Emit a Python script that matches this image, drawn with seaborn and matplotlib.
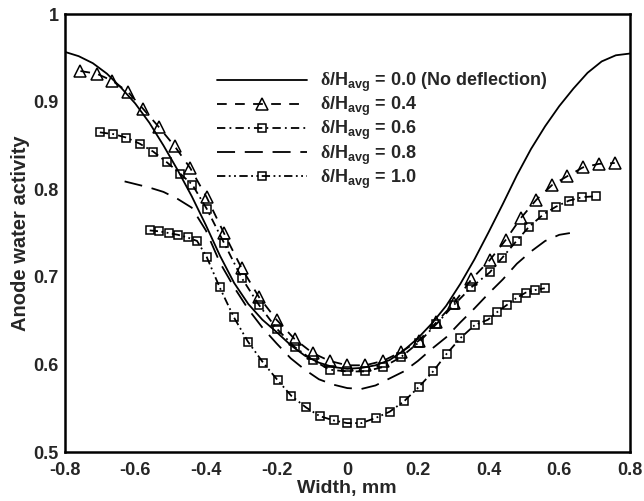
import matplotlib
matplotlib.use("Agg")
import matplotlib.pyplot as plt
import seaborn as sns
from matplotlib.ticker import MultipleLocator, FormatStrFormatter

# Anode water activity across the channel width for several deflection ratios
x_00 = [-0.80, -0.76, -0.72, -0.68, -0.64, -0.60, -0.56, -0.52, -0.48, -0.44,
        -0.40, -0.36, -0.32, -0.28, -0.24, -0.20, -0.16, -0.12, -0.08, -0.04,
        0.00, 0.04, 0.08, 0.12, 0.16, 0.20, 0.24, 0.28, 0.32, 0.36,
        0.40, 0.44, 0.48, 0.52, 0.56, 0.60, 0.64, 0.68, 0.72, 0.76, 0.80]
y_00 = [0.957, 0.952, 0.944, 0.932, 0.916, 0.898, 0.876, 0.850, 0.822, 0.792,
        0.759, 0.724, 0.693, 0.669, 0.651, 0.637, 0.622, 0.610, 0.602, 0.597,
        0.595, 0.596, 0.599, 0.605, 0.616, 0.630, 0.647, 0.667, 0.692, 0.720,
        0.751, 0.783, 0.816, 0.846, 0.872, 0.895, 0.915, 0.933, 0.946, 0.953, 0.955]

x_04 = [-0.755, -0.709, -0.665, -0.620, -0.578, -0.533, -0.488, -0.444, -0.398, -0.349,
        -0.299, -0.250, -0.200, -0.149, -0.098, -0.050, 0.000, 0.051, 0.101, 0.151,
        0.202, 0.252, 0.302, 0.351, 0.403, 0.448, 0.491, 0.535, 0.580, 0.623,
        0.667, 0.712, 0.757]
y_04 = [0.935, 0.932, 0.924, 0.911, 0.892, 0.871, 0.849, 0.824, 0.791, 0.750,
        0.710, 0.677, 0.651, 0.629, 0.613, 0.604, 0.599, 0.599, 0.604, 0.614,
        0.627, 0.648, 0.670, 0.697, 0.719, 0.742, 0.767, 0.788, 0.805, 0.815,
        0.825, 0.829, 0.830]

x_06 = [-0.700, -0.662, -0.625, -0.587, -0.549, -0.511, -0.473, -0.438, -0.398, -0.349,
        -0.299, -0.250, -0.200, -0.149, -0.098, -0.050, 0.000, 0.050, 0.101, 0.151,
        0.202, 0.252, 0.302, 0.351, 0.403, 0.439, 0.479, 0.514, 0.554, 0.590,
        0.627, 0.665, 0.703]
y_06 = [0.865, 0.863, 0.859, 0.852, 0.843, 0.831, 0.818, 0.805, 0.778, 0.739,
        0.699, 0.668, 0.641, 0.620, 0.605, 0.594, 0.592, 0.592, 0.597, 0.608,
        0.625, 0.646, 0.668, 0.688, 0.705, 0.722, 0.741, 0.757, 0.771, 0.780,
        0.787, 0.791, 0.792]

x_08 = [-0.63, -0.60, -0.56, -0.52, -0.48, -0.44, -0.40, -0.36, -0.32, -0.28,
        -0.24, -0.20, -0.16, -0.12, -0.08, -0.04, 0.00, 0.04, 0.08, 0.12,
        0.16, 0.20, 0.24, 0.28, 0.32, 0.36, 0.40, 0.44, 0.48, 0.52,
        0.56, 0.60, 0.63]
y_08 = [0.809, 0.806, 0.802, 0.797, 0.789, 0.779, 0.753, 0.716, 0.688, 0.663,
        0.642, 0.624, 0.607, 0.594, 0.583, 0.577, 0.573, 0.572, 0.576, 0.584,
        0.592, 0.604, 0.618, 0.631, 0.648, 0.664, 0.681, 0.697, 0.715, 0.729,
        0.741, 0.748, 0.750]

x_10 = [-0.559, -0.532, -0.505, -0.479, -0.452, -0.425, -0.398, -0.361, -0.321, -0.281,
        -0.238, -0.197, -0.158, -0.117, -0.078, -0.038, 0.000, 0.040, 0.081, 0.120,
        0.161, 0.202, 0.243, 0.281, 0.320, 0.361, 0.398, 0.425, 0.452, 0.479,
        0.505, 0.532, 0.559]
y_10 = [0.753, 0.752, 0.750, 0.748, 0.745, 0.741, 0.723, 0.688, 0.654, 0.626,
        0.602, 0.582, 0.564, 0.551, 0.541, 0.536, 0.533, 0.533, 0.539, 0.546,
        0.558, 0.574, 0.592, 0.612, 0.630, 0.645, 0.651, 0.660, 0.668, 0.676,
        0.682, 0.685, 0.687]

labels = [
    r"$\delta\mathrm{/H_{avg}}$ = 0.0 (No deflection)",
    r"$\delta\mathrm{/H_{avg}}$ = 0.4",
    r"$\delta\mathrm{/H_{avg}}$ = 0.6",
    r"$\delta\mathrm{/H_{avg}}$ = 0.8",
    r"$\delta\mathrm{/H_{avg}}$ = 1.0",
]

x_ticks = [-0.8, -0.6, -0.4, -0.2, 0.0, 0.2, 0.4, 0.6, 0.8]
y_ticks = [0.5, 0.6, 0.7, 0.8, 0.9, 1.0]

sns.set_style("white")
plt.rcParams["font.family"] = ["Liberation Sans", "DejaVu Sans"]
plt.rcParams["font.weight"] = "bold"
plt.rcParams["mathtext.fontset"] = "custom"
plt.rcParams["mathtext.rm"] = "Liberation Sans:bold"
plt.rcParams["mathtext.it"] = "Liberation Serif"
plt.rcParams["mathtext.bf"] = "Liberation Sans:bold"
plt.rcParams["lines.scale_dashes"] = False

fig = plt.figure(figsize=(6.44, 5.01), dpi=100)
ax = fig.add_axes([0.1002, 0.0978, 0.878, 0.874])

lw = 1.3
common = dict(ax=ax, color="black", linewidth=lw, sort=False, estimator=None)
mk = dict(markerfacecolor="none", markeredgecolor="black", markeredgewidth=1.1)

sns.lineplot(x=x_00, y=y_00, linestyle="-", label=labels[0], **common)
sns.lineplot(x=x_04, y=y_04, linestyle=(0, (7, 6)), marker="^", markersize=8,
             label=labels[1], **common, **mk)
sns.lineplot(x=x_06, y=y_06, linestyle=(0, (6, 3, 1.3, 3)), marker="s", markersize=6,
             label=labels[2], **common, **mk)
sns.lineplot(x=x_08, y=y_08, linestyle=(0, (13, 7)), label=labels[3], **common)
sns.lineplot(x=x_10, y=y_10, linestyle=(0, (6, 2.5, 1.3, 2.5, 1.3, 2.5)), marker="s",
             markersize=6, label=labels[4], **common, **mk)

ax.set_xlim(-0.8, 0.8)
ax.set_ylim(0.5, 1.0)
ax.set_xticks(x_ticks)
ax.set_yticks(y_ticks)
ax.xaxis.set_major_formatter(FormatStrFormatter("%g"))
ax.yaxis.set_major_formatter(FormatStrFormatter("%g"))
ax.xaxis.set_minor_locator(MultipleLocator(0.04))
ax.yaxis.set_minor_locator(MultipleLocator(0.02))
ax.tick_params(which="both", direction="in", top=False, right=False, width=1.1,
               labelsize=13)
ax.tick_params(axis="y", which="major", pad=4)
ax.tick_params(axis="x", which="major", pad=7)
ax.tick_params(which="major", length=9)
ax.tick_params(which="minor", length=5.5)
for side in ax.spines.values():
    side.set_linewidth(1.8)
    side.set_color("black")

ax.set_xlabel("Width, mm", fontsize=14, fontweight="bold", labelpad=1)
ax.set_ylabel("Anode water activity", fontsize=14.5, fontweight="bold", labelpad=3)

ax.legend(loc="upper left", bbox_to_anchor=(0.27, 0.87), frameon=False,
          fontsize=13, handlelength=5.0, handletextpad=0.7, labelspacing=0.05,
          borderpad=0, borderaxespad=0, numpoints=1)

fig.savefig("out.png", dpi=100)
